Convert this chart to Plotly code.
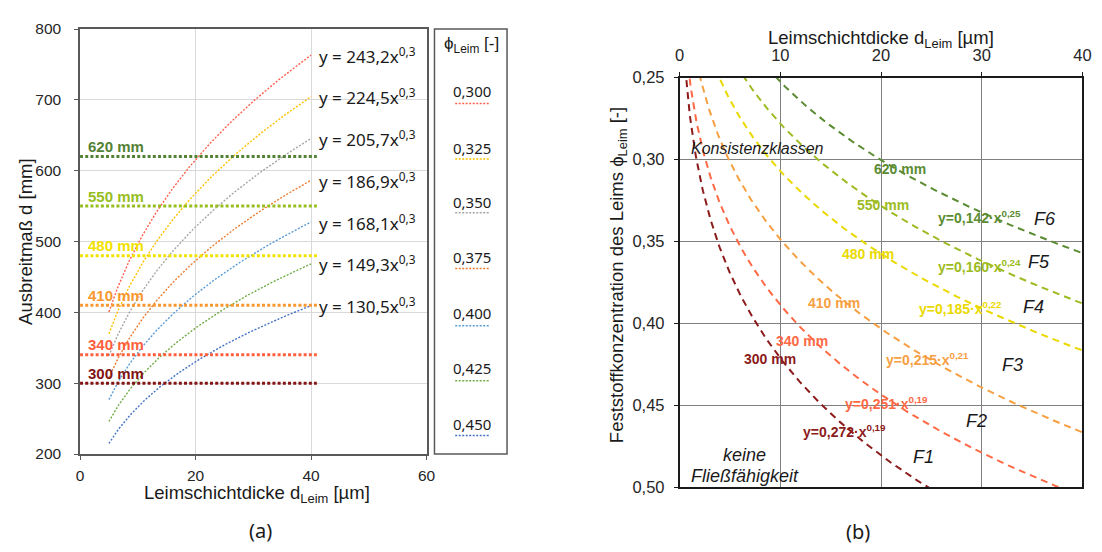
import numpy as np
import plotly.graph_objects as go

# ---------------- data: (a) Ausbreitmaß über Leimschichtdicke ----------------
phi_labels = ["0,300", "0,325", "0,350", "0,375", "0,400", "0,425", "0,450"]
fit_coef = [243.2, 224.5, 205.7, 186.9, 168.1, 149.3, 130.5]   # y = a * x^b
fit_exp = 0.31                                                   # shown rounded as 0,3
fit_x_range = [5, 40]
curve_colors = ["#FF5F4F", "#FFC000", "#A5A5A5", "#ED7D31", "#5B9BD5", "#70AD47", "#4472C4"]

levels_mm = [620, 550, 480, 410, 340, 300]
level_span = [0, 41]
level_colors_a = ["#548235", "#96BE1E", "#F2E200", "#F7972F", "#FF5F3C", "#821414"]

# ---------------- data: (b) Feststoffkonzentration über Leimschichtdicke ----------------
class_levels = ["620 mm", "550 mm", "480 mm", "410 mm", "340 mm", "300 mm"]
phi_coef = [0.142, 0.160, 0.185, 0.215, 0.251, 0.272]           # y = c * x^p
phi_exp = [0.25, 0.24, 0.22, 0.21, 0.19, 0.19]
level_colors_b = ["#5B8C32", "#9DBB22", "#EAD900", "#F6A043", "#FF6945", "#8C1B1B"]
# label anchors (x in µm, y in phi)
level_label_pos = [(21.85, 0.3055), (20.2, 0.3275), (18.75, 0.3576), (15.3, 0.3875), (12.2, 0.4107), (9.0, 0.4216)]
eq_label_pos = [(29.8, 0.3350), (29.8, 0.3649), (27.9, 0.3905), (24.6, 0.4220), (20.5, 0.4488), (16.4, 0.4659)]
class_names = ["F6", "F5", "F4", "F3", "F2", "F1"]
class_pos = [(36.3, 0.3360), (35.7, 0.3626), (35.1, 0.3900), (33.1, 0.4255), (29.45, 0.4594), (24.2, 0.4816)]

W, H = 1102, 552
ARIAL = "Liberation Sans, Arial, sans-serif"
CALIBRI = "Noto Sans, Open Sans, sans-serif"
INK = "#1a1a1a"


def px_x(p):
    return p / W


def px_y(p):
    return 1 - p / H


def comma(v, nd):
    return f"{v:.{nd}f}".replace(".", ",")


def paper_text(x, y, text, font, **kw):
    d = dict(x=px_x(x), y=px_y(y), xref="paper", yref="paper", text=text, showarrow=False,
             xanchor="center", yanchor="middle", font=font)
    d.update(kw)
    return d


fig = go.Figure()

# (a) power-law curves
xa = np.linspace(fit_x_range[0], fit_x_range[1], 200)
for a, c in zip(fit_coef, curve_colors):
    fig.add_trace(go.Scatter(x=xa, y=a * xa ** fit_exp, mode="lines",
                             line=dict(color=c, width=1.4, dash="2px,1.6px"),
                             xaxis="x", yaxis="y", hoverinfo="skip"))

# (a) horizontal consistency levels
for lv, c in zip(levels_mm, level_colors_a):
    fig.add_trace(go.Scatter(x=level_span, y=[lv, lv], mode="lines",
                             line=dict(color=c, width=3, dash="3px,2.2px"),
                             xaxis="x", yaxis="y", hoverinfo="skip"))

# (b) iso-lines
xb = np.linspace(0.2, 40, 600)
for cf, ex, c in zip(phi_coef, phi_exp, level_colors_b):
    fig.add_trace(go.Scatter(x=xb, y=cf * xb ** ex, mode="lines",
                             line=dict(color=c, width=2, dash="7px,5px"),
                             xaxis="x2", yaxis="y2", hoverinfo="skip"))

ann = []

# (a) equation labels at curve ends
for a in fit_coef:
    ann.append(dict(x=fit_x_range[1] + 1, y=a * fit_x_range[1] ** fit_exp, xref="x", yref="y",
                    text=f"y = {comma(a, 1)}x<sup>0,3</sup>", showarrow=False,
                    xanchor="left", yanchor="middle",
                    font=dict(family=CALIBRI, size=17, color=INK)))

# (a) level labels
for lv, c in zip(levels_mm, level_colors_a):
    ann.append(dict(x=1, y=lv, xref="x", yref="y", text=f"<b>{lv} mm</b>", showarrow=False,
                    xanchor="left", yanchor="middle", yshift=10,
                    font=dict(family=ARIAL, size=15, color=c)))

# (a) legend box content
ann.append(paper_text(472, 37, "ϕ<sub>Leim</sub> [-]", dict(family=ARIAL, size=17, color=INK)))
legend_text_y = [85, 144, 199.5, 256.5, 314, 371.5, 429.5]
legend_line_y = [97.7, 155, 210.7, 268.3, 327.3, 384.3, 441]
shapes = []
for lab, ty, ly, c in zip(phi_labels, legend_text_y, legend_line_y, curve_colors):
    ann.append(paper_text(473.5, ty, lab, dict(family=CALIBRI, size=15, color=INK)))
    shapes.append(dict(type="line", xref="paper", yref="paper",
                       x0=px_x(456), x1=px_x(491), y0=px_y(ly), y1=px_y(ly),
                       line=dict(color=c, width=1.5, dash="2px,1.5px")))
shapes.append(dict(type="rect", xref="paper", yref="paper",
                   x0=px_x(435), x1=px_x(508.5), y0=px_y(460), y1=px_y(20.7),
                   line=dict(color="#595959", width=1.5)))

# (a) axis titles
ann.append(paper_text(20, 240, "Ausbreitmaß d [mm]", dict(family=ARIAL, size=18.5, color=INK),
                      textangle=-90))
ann.append(paper_text(255, 501, "Leimschichtdicke d<sub>Leim</sub> [µm]",
                      dict(family=ARIAL, size=18.5, color=INK)))

# (b) labels
for (x, y), t, c in zip(level_label_pos, class_levels, level_colors_b):
    ann.append(dict(x=x, y=y, xref="x2", yref="y2", text=f"<b>{t}</b>", showarrow=False,
                    font=dict(family=ARIAL, size=14, color=c)))
for (x, y), cf, ex, c in zip(eq_label_pos, phi_coef, phi_exp, level_colors_b):
    ann.append(dict(x=x, y=y, xref="x2", yref="y2",
                    text=f"<b>y={comma(cf, 3)}·x<sup>{comma(ex, 2)}</sup></b>", showarrow=False,
                    font=dict(family=ARIAL, size=14, color=c)))
for (x, y), t in zip(class_pos, class_names):
    ann.append(dict(x=x, y=y, xref="x2", yref="y2", text=f"<i>{t}</i>", showarrow=False,
                    font=dict(family=ARIAL, size=18, color=INK)))
ann.append(dict(x=0.9, y=0.2931, xref="x2", yref="y2", text="<i>Konsistenzklassen</i>",
                showarrow=False, xanchor="left", font=dict(family=ARIAL, size=16, color=INK)))
ann.append(dict(x=6.4, y=0.4806, xref="x2", yref="y2", text="<i>keine</i>",
                showarrow=False, font=dict(family=ARIAL, size=18, color=INK)))
ann.append(dict(x=6.45, y=0.4934, xref="x2", yref="y2", text="<i>Fließfähigkeit</i>",
                showarrow=False, font=dict(family=ARIAL, size=18, color=INK)))

# (b) axis titles
ann.append(paper_text(887.5, 31, "Leimschichtdicke d<sub>Leim</sub> [µm]",
                      dict(family=ARIAL, size=18.5, color=INK)))
ann.append(paper_text(621, 275, "Feststoffkonzentration des Leims ϕ<sub>Leim</sub> [-]",
                      dict(family=ARIAL, size=18.5, color=INK), textangle=-90))

# panel captions
ann.append(paper_text(259, 539, "(a)", dict(family=CALIBRI, size=20, color=INK)))
ann.append(paper_text(864, 540, "(b)", dict(family=CALIBRI, size=20, color=INK)))

tick_a = dict(family=ARIAL, size=15.5, color="#262626")
tick_b = dict(family=ARIAL, size=16.5, color="#262626")

fig.update_layout(
    width=W, height=H, margin=dict(l=0, r=0, t=0, b=0),
    paper_bgcolor="white", plot_bgcolor="white", showlegend=False,
    separators=",.",
    annotations=ann, shapes=shapes,
    xaxis=dict(domain=[px_x(76), px_x(427)], range=[0, 60], dtick=20, anchor="y",
               showgrid=True, gridcolor="#D9D9D9", gridwidth=1.2, zeroline=False,
               showline=True, linecolor="#595959", linewidth=1.5, mirror=True,
               ticks="outside", ticklen=4, tickcolor="#595959", tickfont=tick_a,
               ticklabelstandoff=3),
    yaxis=dict(domain=[px_y(460), px_y(20.7)], range=[200, 800], dtick=100, anchor="x",
               showgrid=True, gridcolor="#D9D9D9", gridwidth=1.2, zeroline=False,
               showline=True, linecolor="#595959", linewidth=1.5, mirror=True,
               ticks="outside", ticklen=4, tickcolor="#595959", tickfont=tick_a,
               ticklabelstandoff=10),
    xaxis2=dict(domain=[px_x(683.3), px_x(1091.3)], range=[0, 40], dtick=10, anchor="y2", side="top",
                showgrid=True, gridcolor="#808080", gridwidth=1.3, zeroline=False,
                showline=True, linecolor=INK, linewidth=1.6, mirror=True,
                ticks="outside", ticklen=4, tickcolor=INK, tickfont=tick_b,
                ticklabelstandoff=4),
    yaxis2=dict(domain=[px_y(494.3), px_y(71)], range=[0.5, 0.25], dtick=0.05, tickformat=".2f",
                anchor="x2", showgrid=True, gridcolor="#808080", gridwidth=1.3, zeroline=False,
                showline=True, linecolor=INK, linewidth=1.6, mirror=True,
                ticks="outside", ticklen=4, tickcolor=INK, tickfont=tick_b,
                ticklabelstandoff=6),
)

fig.write_html("out.html")
